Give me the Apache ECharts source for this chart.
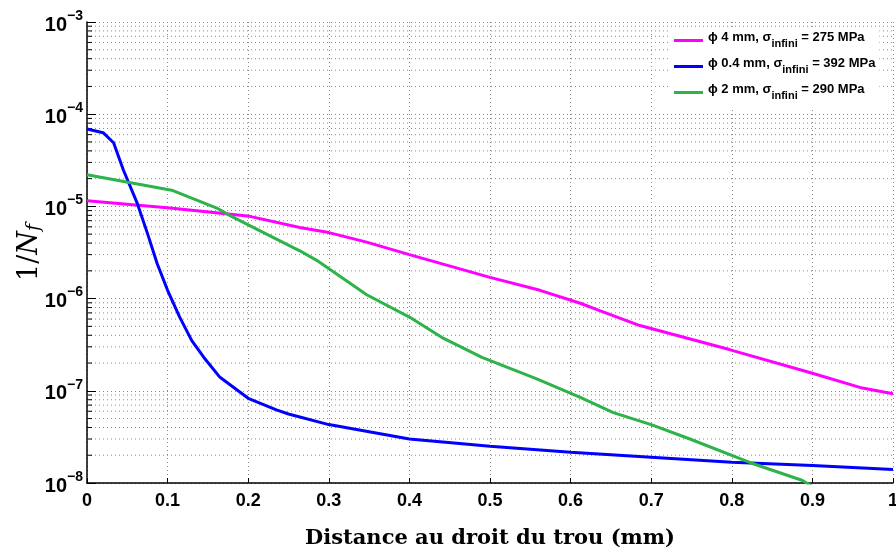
<!DOCTYPE html>
<html>
<head>
<meta charset="utf-8">
<script src="https://cdn.jsdelivr.net/npm/echarts@6/dist/echarts.min.js"></script>
<style>html,body{margin:0;padding:0;background:#fff}#c{width:896px;height:556px}</style>
</head>
<body>
<div id="c"></div>
<script>
// ---- data ----
const xTicks = [0, 0.1, 0.2, 0.3, 0.4, 0.5, 0.6, 0.7, 0.8, 0.9, 1];
const yDecades = [-8, -7, -6, -5, -4, -3];

const names = ['phi4', 'phi04', 'phi2'];
const legendDiam = ['4', '0.4', '2'];
const legendSigma = ['275', '392', '290'];

const x4mm = [0, 0.103, 0.202, 0.264, 0.30, 0.347, 0.40, 0.50, 0.562, 0.612, 0.636, 0.686, 0.797, 0.90, 0.962, 1.0];
const y4mm = [1.15e-5, 9.6e-6, 7.8e-6, 5.9e-6, 5.2e-6, 4.1e-6, 3.0e-6, 1.7e-6, 1.23e-6, 8.9e-7, 7.4e-7, 5.1e-7, 2.8e-7, 1.55e-7, 1.07e-7, 9.3e-8];

const x04mm = [0, 0.02, 0.033, 0.045, 0.062, 0.075, 0.087, 0.10, 0.115, 0.13, 0.145, 0.165, 0.20, 0.235, 0.25, 0.30, 0.35, 0.40, 0.50, 0.60, 0.70, 0.80, 0.90, 1.0];
const y04mm = [6.9e-5, 6.3e-5, 4.9e-5, 2.5e-5, 1.1e-5, 5.1e-6, 2.4e-6, 1.23e-6, 6.3e-7, 3.5e-7, 2.3e-7, 1.4e-7, 8.3e-8, 6.2e-8, 5.6e-8, 4.3e-8, 3.6e-8, 3.0e-8, 2.5e-8, 2.15e-8, 1.9e-8, 1.68e-8, 1.55e-8, 1.4e-8];

const x2mm = [0, 0.105, 0.161, 0.177, 0.20, 0.264, 0.285, 0.347, 0.40, 0.44, 0.49, 0.558, 0.612, 0.653, 0.70, 0.748, 0.823, 0.887, 0.90];
const y2mm = [2.2e-5, 1.5e-5, 9.6e-6, 8.0e-6, 6.3e-6, 3.3e-6, 2.6e-6, 1.1e-6, 6.3e-7, 3.8e-7, 2.3e-7, 1.35e-7, 8.5e-8, 5.8e-8, 4.3e-8, 3.0e-8, 1.66e-8, 1.07e-8, 9.2e-9];

// minor grid positions (2..9 x 10^d)
const minorY = [];
for (let d = -8; d < -3; d++) for (let k = 2; k <= 9; k++) minorY.push(k * Math.pow(10, d));

const zip = (xs, ys) => xs.map((x, i) => [x, ys[i]]);

const chart = echarts.init(document.getElementById('c'), null, {renderer: 'canvas'});
const sans = 'Liberation Sans, Arial, Helvetica, sans-serif';
const serif = 'DejaVu Serif, serif';

const gridDot = {color: '#8a8a8a', width: 1, type: [1, 3]};

chart.setOption({
  animation: false,
  backgroundColor: '#fff',
  grid: {left: 87, right: 3, top: 22, bottom: 73, containLabel: false, outerBoundsMode: 'none'},
  legend: {
    orient: 'vertical',
    left: 668,
    top: 27,
    backgroundColor: '#fff',
    padding: [4, 4, 8, 6],
    itemWidth: 29,
    itemHeight: 3,
    itemGap: 8,
    icon: 'rect',
    data: names,
    formatter: function (n) {
      const i = names.indexOf(n);
      return '{t|\u03d5 ' + legendDiam[i] + ' mm, \u03c3}{s|infini}{t| = ' + legendSigma[i] + ' MPa}';
    },
    textStyle: {
      fontFamily: sans,
      rich: {
        t: {fontSize: 13, fontWeight: 'bold', fontFamily: sans, color: '#000', verticalAlign: 'top', lineHeight: 15},
        s: {fontSize: 11, fontWeight: 'bold', fontFamily: sans, color: '#000', verticalAlign: 'top', padding: [7, 0, 0, 0], lineHeight: 19}
      }
    }
  },
  xAxis: {
    type: 'value',
    min: 0, max: 1, interval: 0.1,
    name: 'Distance au droit du trou (mm)',
    nameLocation: 'middle',
    nameGap: 45,
    nameMoveOverlap: false,
    nameTextStyle: {fontFamily: serif, fontWeight: 'bold', fontSize: 21, color: '#000'},
    axisLine: {show: true, onZero: false, lineStyle: {color: '#000', width: 1.5}},
    axisTick: {show: true, inside: true, length: 5, lineStyle: {color: '#000'}},
    axisLabel: {
      fontFamily: sans, fontWeight: 'bold', fontSize: 18, color: '#000', margin: 9,
      formatter: v => String(Math.round(v * 10) / 10)
    },
    splitLine: {show: true, lineStyle: gridDot}
  },
  yAxis: {
    type: 'log',
    logBase: 10,
    min: 1e-8, max: 1e-3,
    name: '{a|1/}{n|N}{f|f}',
    nameLocation: 'middle',
    nameGap: 44,
    nameMoveOverlap: false,
    nameRotate: 90,
    nameTextStyle: {
      rich: {
        a: {fontFamily: serif, fontSize: 27, color: '#000', fontStyle: 'normal'},
        n: {fontFamily: serif, fontSize: 27, color: '#000', fontStyle: 'italic'},
        f: {fontFamily: serif, fontSize: 19, color: '#000', fontStyle: 'italic', padding: [0, 0, -9, 0]}
      }
    },
    axisLine: {show: true, lineStyle: {color: '#000', width: 1.5}},
    axisTick: {show: true, inside: true, length: 9, lineStyle: {color: '#000'}},
    axisLabel: {
      margin: 4,
      formatter: function (v) {
        const e = Math.round(Math.log10(v));
        return '{b|10}{s|\u2212' + Math.abs(e) + '}';
      },
      rich: {
        b: {fontFamily: sans, fontWeight: 'bold', fontSize: 20, color: '#000', verticalAlign: 'bottom', padding: [6, 0, 0, 0]},
        s: {fontFamily: sans, fontWeight: 'bold', fontSize: 14, color: '#000', verticalAlign: 'top', padding: [0, 0, 10, 0]}
      }
    },
    splitLine: {show: true, lineStyle: gridDot}
  },
  series: [
    {
      type: 'custom',
      silent: true,
      z: 1,
      clip: true,
      data: minorY.map(v => [0, v]),
      renderItem: function (params, api) {
        const v = api.value(1);
        const p0 = api.coord([0, v]);
        const p1 = api.coord([1, v]);
        return {
          type: 'group',
          children: [
            {type: 'line', shape: {x1: p0[0], y1: p0[1], x2: p1[0], y2: p1[1]}, style: {stroke: '#8a8a8a', lineWidth: 1, lineDash: [1, 3]}},
            {type: 'line', shape: {x1: p0[0], y1: p0[1], x2: p0[0] + 5, y2: p0[1]}, style: {stroke: '#000', lineWidth: 1}}
          ]
        };
      }
    },
    {name: names[0], type: 'line', data: zip(x4mm, y4mm), showSymbol: false, symbol: 'none', clip: true, z: 3,
     lineStyle: {color: '#ff00ff', width: 3}, itemStyle: {color: '#ff00ff'}},
    {name: names[1], type: 'line', data: zip(x04mm, y04mm), showSymbol: false, symbol: 'none', clip: true, z: 3,
     lineStyle: {color: '#0000ff', width: 3}, itemStyle: {color: '#0000ff'}},
    {name: names[2], type: 'line', data: zip(x2mm, y2mm), showSymbol: false, symbol: 'none', clip: true, z: 3,
     lineStyle: {color: '#2db34a', width: 3}, itemStyle: {color: '#2db34a'}}
  ]
});
</script>
</body>
</html>
